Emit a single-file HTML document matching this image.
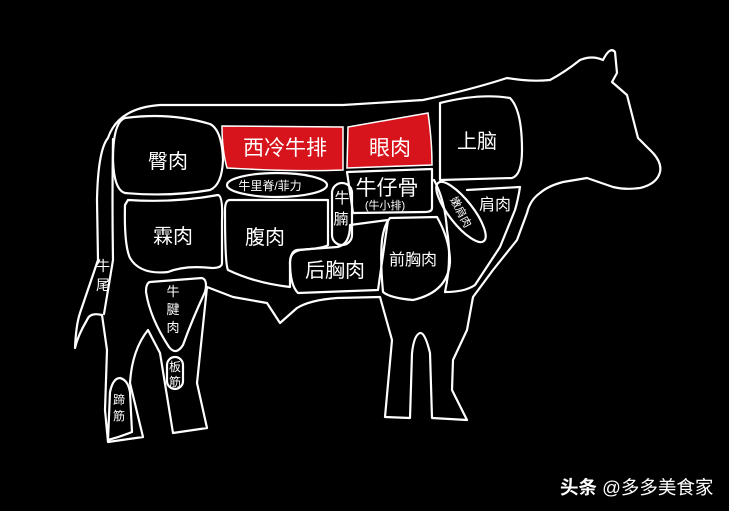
<!DOCTYPE html>
<html><head><meta charset="utf-8"><style>
html,body{margin:0;padding:0;background:#000;}
svg{display:block}
text{font-family:"Liberation Sans","Noto Sans CJK SC",sans-serif;fill:#fff;}
</style></head><body>
<svg width="729" height="511" viewBox="0 0 729 511" xmlns="http://www.w3.org/2000/svg">
<rect width="729" height="511" fill="#000"/>
<g fill="none" stroke="#fff" stroke-width="2.2" stroke-linejoin="round" stroke-linecap="round">
<path d="M108,138 Q118,108 160,105 L343,105 L423,100 Q470,90 507,78 Q530,82 550,80 Q565,72 580,60 Q592,55 603,60 Q610,46 615,52 L617,73 L612,82 L627,95 L638,138 L653,153 Q662,163 660,172 Q657,184 640,188 Q625,190 613,187 L587,178 L563,182 Q548,186 540,193 Q530,200 527,213 L517,240 L493,270 L473,297 L467,330 L453,360 L452,390 L467,420 L432,418 L430,353 Q425,332 420,333 Q414,335 412,353 L410,418 L385,417 L392,340 L380,297 L337,298 Q310,300 297,308 L280,323 L267,303 L233,297 L207,287 L197,383 L207,428 L173,433 L160,353 L148,330 Q132,350 130,383 L143,437 L108,442 L105,410 L107,350 L102,315 Q90,312 87,320 Q78,335 75,348 Q76,325 80,313 L98,260 L97,200 Q98,150 108,138 Z"/>
<path d="M113,139 Q112,200 113,260 L104,314"/>
<path d="M125,118 Q170,112 210,124 Q222,130 223,160 Q222,185 210,190 Q170,197 125,193 Q114,190 113,160 Q113,122 125,118 Z"/>
<path d="M128,200 Q175,203 218,195 Q223,196 222,220 L222,263 Q222,268 212,268 Q185,265 168,272 Q140,275 130,258 Q124,245 125,205 Z"/>
<path d="M150,282 Q175,280 202,278 Q208,280 205,292 Q192,320 183,345 Q176,356 169,347 Q150,318 146,292 Q146,283 150,282 Z"/>
<rect x="167" y="357" width="16" height="32" rx="8"/>
<path d="M108,440 L110,392 Q113,378 120,378 Q128,380 130,392 L132,432 Q120,437 108,440"/>
<ellipse cx="277" cy="185" rx="50" ry="12"/>
<path d="M230,200 L328,200 L328,245 Q325,248 300,250 Q290,252 290,262 L290,287 Q255,283 228,270 Q225,265 225,210 Q225,200 230,200 Z"/>
<rect x="332" y="183" width="20" height="62" rx="10"/>
<path d="M297,250 L337,247 Q350,245 350,225 L388,220 L378,290 L298,293 Q290,285 290,262 Q291,251 297,250 Z"/>
<path d="M347,172 L432,169 L432,208 Q432,212 425,212 L353,213 Z"/>
<path d="M390,218 L437,217 Q450,240 450,262 Q448,292 413,300 Q390,298 383,292 Q380,260 382,240 Q384,225 390,218 Z"/>
<path d="M440,103 Q480,93 510,98 Q522,110 522,150 Q522,175 512,178 L440,180 Z"/>
<ellipse cx="461" cy="212" rx="37" ry="12" transform="rotate(52 461 212)"/>
<path d="M467,190 L520,187 Q518,200 515,210 L500,247 L475,285 Q465,292 445,292"/>
<path d="M434,180 Q445,200 447,230 Q452,260 445,292"/>
</g>
<path d="M222,126 L343,127 L343,170 Q300,172 227,168 Q222,150 222,126 Z" fill="#d7141c" stroke="#fff" stroke-width="1.5"/>
<path d="M348,127 L428,113 Q432,140 432,165 L347,168 Z" fill="#d7141c" stroke="#fff" stroke-width="1.5"/>
<g text-anchor="middle">
<text x="168" y="168" font-size="20">臀肉</text>
<text x="285" y="155" font-size="21">西冷牛排</text>
<text x="390" y="155" font-size="21">眼肉</text>
<text x="477" y="148" font-size="20">上脑</text>
<text x="270" y="190" font-size="12">牛里脊/菲力</text>
<text x="387" y="195" font-size="21">牛仔骨</text>
<text x="385" y="209" font-size="11">(牛小排)</text>
<text x="342" y="203" font-size="15">牛</text>
<text x="341" y="224" font-size="15">腩</text>
<text x="173" y="243" font-size="20">霖肉</text>
<text x="265" y="244" font-size="20">腹肉</text>
<text x="335" y="277" font-size="20">后胸肉</text>
<text x="413" y="265" font-size="16">前胸肉</text>
<text x="495" y="210" font-size="16">肩肉</text>
<text x="103" y="271" font-size="14">牛</text>
<text x="103" y="290" font-size="14">尾</text>
<text x="173" y="296" font-size="13">牛</text>
<text x="173" y="314" font-size="13">腱</text>
<text x="173" y="332" font-size="13">肉</text>
<text x="175" y="371" font-size="12">板</text>
<text x="175" y="386" font-size="12">筋</text>
<text x="119" y="404" font-size="12">蹄</text>
<text x="119" y="420" font-size="12">筋</text>
<text x="461" y="216" font-size="11" transform="rotate(62 461 212)">嫩肩肉</text>
</g>
<text x="560" y="494" font-size="18.5"><tspan font-weight="bold">头条</tspan> @多多美食家</text>
</svg>
</body></html>
